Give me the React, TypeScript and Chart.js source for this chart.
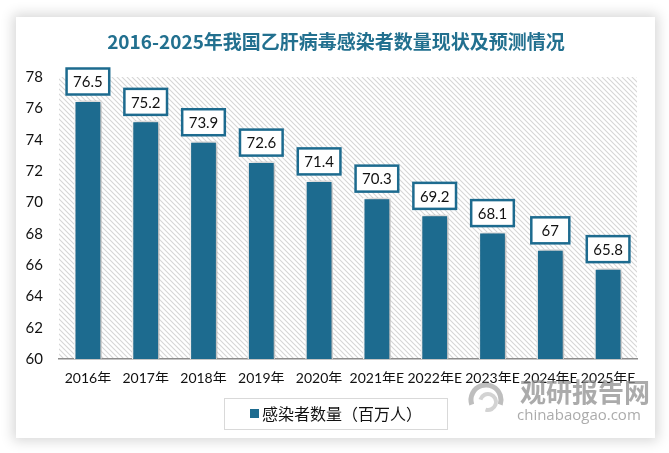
import React, { useEffect, useRef } from "react";
import { Chart, registerables } from "chart.js";

Chart.register(...registerables);

const TITLE = "2016-2025年我国乙肝病毒感染者数量现状及预测情况";
const categories = ["2016年", "2017年", "2018年", "2019年", "2020年", "2021年E", "2022年E", "2023年E", "2024年E", "2025年E"];
const infected = [76.5, 75.2, 73.9, 72.6, 71.4, 70.3, 69.2, 68.1, 67, 65.8];
const seriesName = "感染者数量（百万人）";
const yMin = 60;
const yMax = 78;
const yStep = 2;
const watermarkCn = "观研报告网";
const watermarkEn = "chinabaogao.com";

const BAR_COLOR = "#1d6b8f";
const TITLE_COLOR = "#22708f";
const NUM_FONT = "Lato, 'Noto Sans CJK SC', sans-serif";
const CJK_FONT = "'Noto Sans CJK SC', sans-serif";

function makeHatch(): CanvasPattern | string {
  const c = document.createElement("canvas");
  c.width = 5;
  c.height = 5;
  const g = c.getContext("2d");
  if (!g) return "#fff";
  g.fillStyle = "#ffffff";
  g.fillRect(0, 0, 5, 5);
  g.strokeStyle = "#d6d6d6";
  g.lineWidth = 1.1;
  g.beginPath();
  g.moveTo(-1, -1);
  g.lineTo(6, 6);
  g.moveTo(-1, 4);
  g.lineTo(1, 6);
  g.moveTo(4, -1);
  g.lineTo(6, 1);
  g.stroke();
  const p = g.createPattern(c, "repeat");
  return p || "#fff";
}

const hatchPlugin = {
  id: "hatchBg",
  beforeDraw(chart: any) {
    const { ctx, chartArea } = chart;
    ctx.save();
    ctx.fillStyle = makeHatch();
    ctx.fillRect(chartArea.left, chartArea.top, chartArea.right - chartArea.left, chartArea.bottom - chartArea.top);
    ctx.restore();
  },
};

const shadowPlugin = {
  id: "barShadow",
  beforeDatasetsDraw(chart: any) {
    const ctx = chart.ctx;
    ctx.save();
    ctx.shadowColor = "rgba(0,0,0,0.35)";
    ctx.shadowBlur = 6;
    ctx.shadowOffsetX = 2;
    ctx.shadowOffsetY = 0;
  },
  afterDatasetsDraw(chart: any) {
    chart.ctx.restore();
  },
};

const labelPlugin = {
  id: "valueBoxes",
  afterDatasetsDraw(chart: any) {
    const ctx = chart.ctx;
    const meta = chart.getDatasetMeta(0);
    const data = chart.data.datasets[0].data;
    ctx.save();
    ctx.font = "15px " + NUM_FONT;
    ctx.textAlign = "center";
    ctx.textBaseline = "middle";
    meta.data.forEach((bar: any, i: number) => {
      const txt = String(data[i]);
      const tw = ctx.measureText(txt).width;
      const w = Math.max(tw + 13, 38);
      const h = 26;
      const bottom = bar.y - 6;
      const x0 = bar.x - w / 2;
      const y0 = bottom - h;
      ctx.fillStyle = "#ffffff";
      ctx.fillRect(x0, y0, w, h);
      ctx.lineWidth = 2.5;
      ctx.strokeStyle = BAR_COLOR;
      ctx.strokeRect(x0, y0, w, h);
      ctx.fillStyle = "#111111";
      ctx.fillText(txt, bar.x, y0 + h / 2 + 1);
    });
    ctx.restore();
  },
};

const decorPlugin = {
  id: "decor",
  afterDraw(chart: any) {
    const ctx = chart.ctx;
    ctx.save();
    // title
    ctx.fillStyle = TITLE_COLOR;
    ctx.font = "bold 19px " + CJK_FONT;
    ctx.textAlign = "center";
    ctx.textBaseline = "middle";
    ctx.fillText(TITLE, 336, 42);

    // legend
    ctx.strokeStyle = "#d9d9d9";
    ctx.lineWidth = 1;
    ctx.strokeRect(224.5, 398.5, 223, 31);
    ctx.fillStyle = BAR_COLOR;
    ctx.fillRect(250, 409, 9, 9);
    ctx.fillStyle = "#111111";
    ctx.font = "16px " + CJK_FONT;
    ctx.textAlign = "left";
    ctx.fillText(chart.data.datasets[0].label, 262, 414);

    // watermark
    ctx.globalAlpha = 0.75;
    ctx.strokeStyle = "#a8a8a8";
    ctx.lineWidth = 5;
    ctx.beginPath();
    ctx.arc(486, 400, 15, Math.PI * 0.9, Math.PI * 2.1);
    ctx.stroke();
    ctx.strokeStyle = "#c4c4c4";
    ctx.lineWidth = 4;
    ctx.beginPath();
    ctx.arc(488, 402, 8, Math.PI * 1.1, Math.PI * 2.6);
    ctx.stroke();
    ctx.fillStyle = "#8f8f8f";
    ctx.font = "bold 26px " + CJK_FONT;
    ctx.fillText(watermarkCn, 520, 392);
    ctx.font = "15px 'Open Sans', sans-serif";
    ctx.fillText(watermarkEn, 517, 416);
    ctx.restore();
  },
};

export default function App() {
  const ref = useRef<HTMLCanvasElement | null>(null);

  useEffect(() => {
    if (!ref.current) return;
    const chart = new Chart(ref.current, {
      type: "bar",
      data: {
        labels: categories,
        datasets: [
          {
            label: seriesName,
            data: infected,
            backgroundColor: BAR_COLOR,
            borderColor: "#ffffff",
            borderWidth: 1.5,
            borderSkipped: "bottom",
            barPercentage: 0.48,
            categoryPercentage: 1,
          },
        ],
      },
      options: {
        responsive: false,
        animation: false,
        devicePixelRatio: 1,
        layout: { padding: { left: 16, right: 32, top: 77, bottom: 70 } },
        plugins: {
          legend: { display: false },
          title: { display: false },
          tooltip: { enabled: false },
        },
        scales: {
          x: {
            grid: { display: false, drawTicks: false },
            border: { display: true, color: "#8c8c8c", width: 1.5 },
            ticks: {
              color: "#111111",
              font: { family: NUM_FONT, size: 14 },
              padding: 11,
              maxRotation: 0,
              autoSkip: false,
            },
            afterFit(scale: any) {
              scale.height = 24;
            },
          },
          y: {
            min: yMin,
            max: yMax,
            grid: { display: false, drawTicks: false },
            border: { display: false },
            ticks: {
              stepSize: yStep,
              color: "#111111",
              font: { family: NUM_FONT, size: 15 },
              padding: 16,
            },
            afterFit(scale: any) {
              scale.width = 43;
            },
          },
        },
      },
      plugins: [hatchPlugin, shadowPlugin, labelPlugin, decorPlugin],
    } as any);
    return () => chart.destroy();
  }, []);

  return (
    <div style={{ position: "fixed", left: 0, top: 0, width: 669, height: 453, background: "#ffffff", overflow: "hidden" }}>
      <div
        style={{
          position: "absolute",
          left: 16,
          top: 17,
          width: 639,
          height: 421,
          background: "#ffffff",
          boxShadow: "0 0 12px 3px rgba(0,0,0,0.16)",
        }}
      />
      <canvas ref={ref} width={669} height={453} style={{ position: "absolute", left: 0, top: 0 }} />
    </div>
  );
}
